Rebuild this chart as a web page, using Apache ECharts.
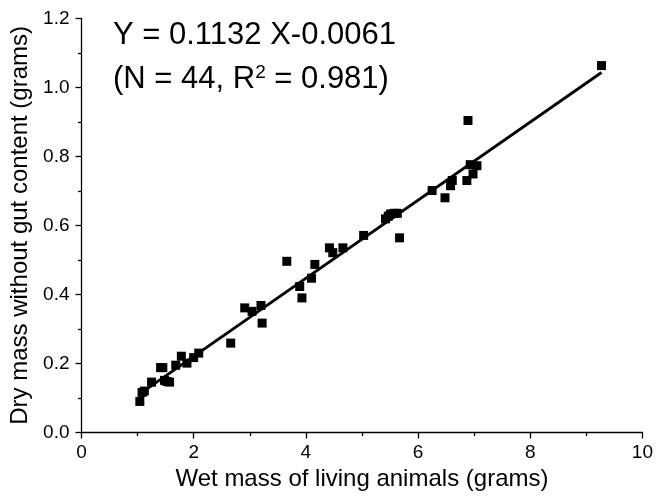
<!DOCTYPE html>
<html>
<head>
<meta charset="utf-8">
<script src="https://cdn.jsdelivr.net/npm/echarts@6/dist/echarts.min.js"></script>
<style>
html,body{margin:0;padding:0;background:#fff;}
#chart{width:656px;height:498px;}
</style>
</head>
<body>
<div id="chart"></div>
<script>
// Wet mass (g) of each animal
var wetMass = [1.04, 1.08, 1.12, 1.25, 1.41, 1.45, 1.48, 1.52, 1.57, 1.68, 1.78, 1.88, 2.00, 2.09,
  2.66, 2.91, 3.04, 3.20, 3.22, 3.66, 3.89, 3.93, 4.10, 4.16, 4.42, 4.48, 4.66, 5.03,
  5.42, 5.47, 5.51, 5.57, 5.63, 5.67, 6.25, 6.48, 6.58, 6.61, 6.87, 6.89, 6.93, 6.98, 7.05, 9.27];
// Dry mass without gut content (g)
var dryMass = [0.090, 0.116, 0.120, 0.146, 0.188, 0.188, 0.151, 0.148, 0.146, 0.195, 0.221, 0.201, 0.217, 0.230,
  0.259, 0.361, 0.351, 0.368, 0.317, 0.496, 0.423, 0.390, 0.447, 0.487, 0.535, 0.521, 0.535, 0.571,
  0.619, 0.627, 0.633, 0.635, 0.635, 0.564, 0.701, 0.680, 0.715, 0.730, 0.730, 0.904, 0.776, 0.749, 0.773, 1.063];
// Fitted line endpoints (Y = 0.1132 X - 0.0061)
var fitX = [1.04, 9.27];
var fitY = [0.112, 1.043];
var xTicks = [0, 2, 4, 6, 8, 10];
var yTicks = ['0.0', '0.2', '0.4', '0.6', '0.8', '1.0', '1.2'];
var eqLine1 = 'Y = 0.1132 X-0.0061';
var xTitle = 'Wet mass of living animals (grams)';
var yTitle = 'Dry mass without gut content (grams)';

var pts = wetMass.map(function (x, i) { return [x, dryMass[i]]; });
var fit = fitX.map(function (x, i) { return [x, fitY[i]]; });
var FONT = 'Liberation Sans, Arial, sans-serif';

var chart = echarts.init(document.getElementById('chart'), null, {renderer: 'canvas'});
var axisCommon = {
  axisLine: {show: true, onZero: false, lineStyle: {color: '#000', width: 1.3}},
  axisTick: {show: true, inside: false, length: 6, lineStyle: {color: '#000', width: 1.3}},
  minorTick: {show: true, splitNumber: 2, length: 3.5, lineStyle: {color: '#000', width: 1.3}},
  splitLine: {show: false}
};
chart.setOption({
  animation: false,
  backgroundColor: '#fff',
  grid: {left: 81.5, right: 13, top: 18.3, bottom: 65.5, containLabel: false},
  xAxis: Object.assign({
    type: 'value', min: 0, max: 10, interval: 2,
    name: xTitle, nameLocation: 'middle', nameGap: 35,
    nameTextStyle: {fontFamily: FONT, fontSize: 24, color: '#000'},
    axisLabel: {fontFamily: FONT, fontSize: 19, color: '#000', margin: 11,
      formatter: function (v) { var i = xTicks.indexOf(v); return i >= 0 ? String(xTicks[i]) : ''; }}
  }, axisCommon),
  yAxis: Object.assign({
    type: 'value', min: 0, max: 1.2, interval: 0.2,
    name: yTitle, nameLocation: 'middle', nameGap: 48,
    nameTextStyle: {fontFamily: FONT, fontSize: 24, color: '#000'},
    axisLabel: {fontFamily: FONT, fontSize: 19, color: '#000', margin: 12,
      formatter: function (v) { return yTicks[Math.round(v / 0.2)]; }}
  }, axisCommon),
  graphic: [
    {type: 'text', left: 113, top: 20, style: {text: eqLine1, font: '31px ' + FONT, fill: '#000'}},
    {type: 'text', left: 113, top: 63, style: {
      text: '(N = 44, R{sup|2} = 0.981)', font: '31px ' + FONT, fill: '#000',
      rich: {sup: {fontSize: 19, fontFamily: FONT, fill: '#000', verticalAlign: 'top', padding: [0, 0, 14, 0]}}
    }}
  ],
  series: [
    {type: 'line', data: fit, symbol: 'none', lineStyle: {color: '#000', width: 2.8}, silent: true, z: 2},
    {type: 'scatter', data: pts, symbol: 'rect', symbolSize: 9, itemStyle: {color: '#000', opacity: 1}, z: 3}
  ]
});
</script>
</body>
</html>
